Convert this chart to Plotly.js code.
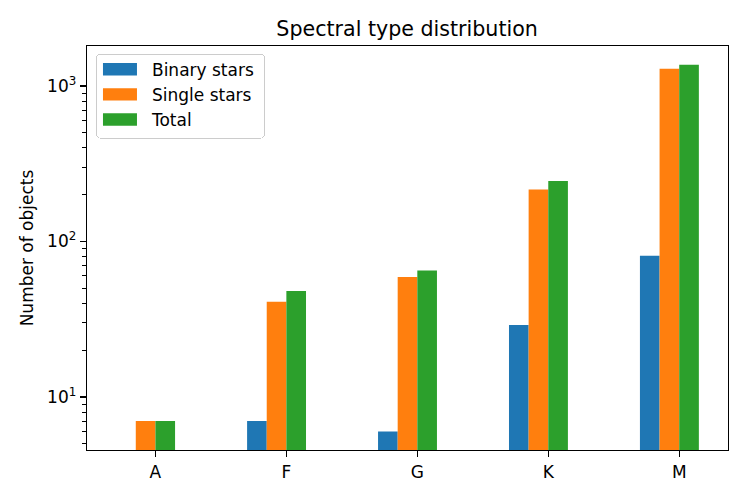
<!DOCTYPE html>
<html>
<head>
<meta charset="utf-8">
<script src="https://cdn.plot.ly/plotly-3.0.1.min.js"></script>
<style>html,body{margin:0;padding:0;background:#fff;}</style>
</head>
<body>
<div id="chart" style="width:747px;height:498px;"></div>
<script>
const categories = ["A", "F", "G", "K", "M"];
const seriesNames = ["Binary stars", "Single stars", "Total"];
const binaryStars = [0, 7, 6, 29, 81];
const singleStars = [7, 41, 59, 216, 1290];
const totalStars = [7, 48, 65, 245, 1371];
const colors = ["#1f77b4", "#ff7f0e", "#2ca02c"];
const majorTickVals = [10, 100, 1000];
const majorTickText = ["10<sup>1</sup>", "10<sup>2</sup>", "10<sup>3</sup>"];

const xIdx = categories.map((c, i) => i);
const seriesValues = [binaryStars, singleStars, totalStars];
const offsets = [-0.3, -0.15, 0];

const traces = seriesValues.map((vals, k) => ({
  type: "bar",
  name: seriesNames[k],
  x: xIdx,
  y: vals.map(v => (v > 0 ? v : null)),
  width: 0.15,
  offset: offsets[k],
  marker: { color: colors[k], line: { width: 0 } },
  hoverinfo: "x+y+name"
}));

const minorVals = [];
for (let d = 1; d <= 1000; d *= 10) {
  for (let m = 2; m <= 9; m++) minorVals.push(m * d);
}

const font = "DejaVu Sans, sans-serif";
const fs = 17;
const layout = {
  width: 747,
  height: 498,
  margin: { l: 87, r: 19, t: 46, b: 48 },
  paper_bgcolor: "#fff",
  plot_bgcolor: "#fff",
  barmode: "overlay",
  showlegend: true,
  font: { family: font, size: fs, color: "#000" },
  title: {
    text: "Spectral type distribution",
    font: { family: font, size: 20.6, color: "#000" },
    x: 0.545, xanchor: "center", y: 0.943, yanchor: "middle"
  },
  xaxis: {
    range: [-0.5225, 4.3725],
    tickmode: "array",
    tickvals: xIdx,
    ticktext: categories,
    ticks: "outside", ticklen: 6, tickwidth: 1.3, tickcolor: "#000",
    showline: true, linecolor: "#000", linewidth: 1.3, mirror: true,
    showgrid: false, zeroline: false,
    tickfont: { family: font, size: fs, color: "#000" }
  },
  yaxis: {
    type: "log",
    range: [Math.log10(4.56), Math.log10(1807)],
    tickmode: "array",
    tickvals: majorTickVals,
    ticktext: majorTickText,
    ticks: "outside", ticklen: 6, tickwidth: 1.3, tickcolor: "#000",
    minor: { tickmode: "array", tickvals: minorVals, ticks: "outside", ticklen: 3.5, tickwidth: 1, tickcolor: "#000", showgrid: false },
    showline: true, linecolor: "#000", linewidth: 1.3, mirror: true,
    showgrid: false, zeroline: false,
    tickfont: { family: font, size: fs, color: "#000" },
    title: { text: "Number of objects", font: { family: font, size: fs, color: "#000" }, standoff: 9 }
  },
  legend: {
    x: 0.014, y: 0.981, xanchor: "left", yanchor: "top",
    bgcolor: "rgba(255,255,255,0.8)", bordercolor: "#cccccc", borderwidth: 1,
    font: { family: font, size: fs, color: "#000" },
    itemwidth: 45,
    traceorder: "normal"
  }
};

Plotly.newPlot("chart", traces, layout, { displayModeBar: false, staticPlot: true }).then(() => {
  document.querySelectorAll(".legend .legendpoints path").forEach(p => {
    p.setAttribute("d", "M12.5,6.2H-21.5V-6.2H12.5Z");
  });
  const bg = document.querySelector(".legend rect.bg");
  if (bg) {
    const w = parseFloat(bg.getAttribute("width"));
    const h = parseFloat(bg.getAttribute("height"));
    bg.setAttribute("width", w + 5);
    bg.setAttribute("height", h - 3);
    bg.setAttribute("rx", 4);
    bg.setAttribute("ry", 4);
  }
  const sb = document.querySelector(".legend .scrollbox");
  if (sb) sb.setAttribute("transform", "translate(0,-3)");
});
</script>
</body>
</html>
